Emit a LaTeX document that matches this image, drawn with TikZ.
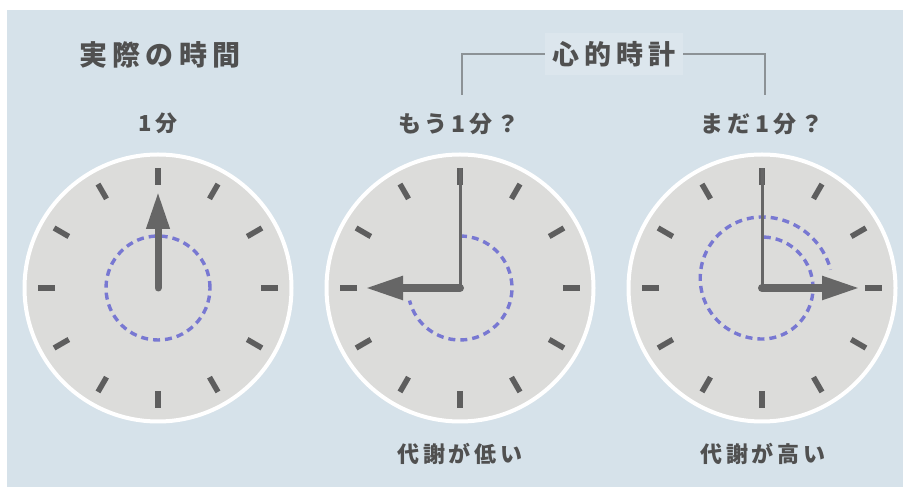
\documentclass[tikz,border=0pt]{standalone}
\usepackage{fontspec}
\newfontfamily\jp{Noto Sans CJK JP}[LetterSpace=18]
\usetikzlibrary{arrows.meta}
\definecolor{bg}{HTML}{D6E2EA}
\definecolor{face}{HTML}{DCDCDA}
\definecolor{ink}{HTML}{505050}
\definecolor{hand}{HTML}{666666}
\definecolor{tickc}{HTML}{5E5E5E}
\definecolor{dashblue}{HTML}{7878D2}
\definecolor{brk}{HTML}{8C9296}
\tikzset{
  clockface/.style={draw=white, line width=4pt, fill=face},
  tickmark/.style={draw=tickc, line width=5.5pt},
  thinhand/.style={draw=hand, line width=3pt},
  thickhand/.style={draw=hand, line width=8pt, line cap=round,
     -{Triangle[length=38pt,width=22pt]}},
  dashpath/.style={draw=dashblue, line width=3.4pt, dash pattern=on 7pt off 5pt},
  lab/.style={text=ink, inner sep=0pt},
  bracketline/.style={draw=brk, line width=2pt}
}
\begin{document}
\begin{tikzpicture}[x=1pt,y=1pt]
\useasboundingbox (0,0) rectangle (903,487);
\fill[white] (0,0) rectangle (903,487);
\fill[bg] (7,0) rectangle (903,477);

\coordinate (c1) at (158,199);
\coordinate (c2) at (460,199);
\coordinate (c3) at (762,199);

\foreach \c in {c1,c2,c3}{
  \draw[clockface] (\c) circle (133.5);
  \foreach \a in {0,30,...,330}
    \draw[tickmark] ([shift={(\a:103)}]\c) -- ([shift={(\a:120)}]\c);
}

% clock 1
\draw[dashpath] (c1) circle (52);
\coordinate (h1) at ([shift={(0,96)}]c1);
\draw[thickhand, -{Triangle[length=37pt,width=22pt]}, line width=7pt] (c1) -- (h1);

% clock 2
\draw[dashpath] ([shift={(90:52)}]c2) arc[start angle=90, end angle=-166, radius=52];
\coordinate (m2) at ([shift={(0,120)}]c2);
\coordinate (h2) at ([shift={(-95,0)}]c2);
\draw[thinhand] (c2) -- (m2);
\draw[thickhand] (c2) -- (h2);

% clock 3
\begin{scope}[shift={(c3)}]
  \draw[dashpath] plot[smooth, samples=80, domain=88:-345]
    (\x:{51+10*(1-cos(min(max(-90-\x,0),180)))});
\end{scope}
\coordinate (m3) at ([shift={(0,120)}]c3);
\coordinate (h3) at ([shift={(98,0)}]c3);
\draw[thinhand] (c3) -- (m3);
\draw[thickhand] (c3) -- (h3);

% texts
\node[lab, font=\jp\bfseries\fontsize{28}{30}\selectfont] (real) at (160,432) {実際の時間};
\node[lab, font=\jp\bfseries\fontsize{22}{24}\selectfont] (one) at (158,364) {1分};
\node[lab, font=\jp\bfseries\fontsize{23}{25}\selectfont] (mou) at (459,363) {もう1分？};
\node[lab, font=\jp\bfseries\fontsize{23}{25}\selectfont] (mada) at (762,363) {まだ1分？};
\node[lab, font=\jp\bfseries\fontsize{22}{24}\selectfont] (low) at (460,33) {代謝が低い};
\node[lab, font=\jp\bfseries\fontsize{22}{24}\selectfont] (high) at (763,33) {代謝が高い};
\node[lab, font=\jp\bfseries\fontsize{27}{29}\selectfont, fill=bg!85!white, inner sep=8pt] (mental) at (614,433) {心的時計};

\coordinate (bl) at (462,392);
\coordinate (br) at (765,392);
\draw[bracketline] (bl) |- (mental.west);
\draw[bracketline] (br) |- (mental.east);
\end{tikzpicture}
\end{document}
